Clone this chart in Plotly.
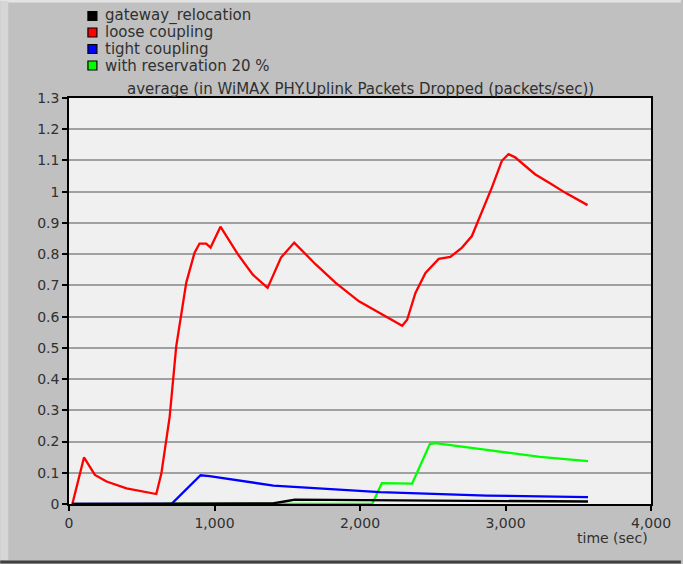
import plotly.graph_objects as go

# time (sec) / value pairs
gateway_t = [20, 700, 1400, 1480, 1552, 2500, 3567]
gateway_v = [0.0, 0.0, 0.002, 0.008, 0.014, 0.011, 0.008]

loose_t = [23, 103, 178, 258, 395, 600, 635, 692, 737, 806, 863, 897, 943, 973, 1041,
           1160, 1262, 1365, 1457, 1548, 1696, 1833, 1993, 2130, 2290, 2324, 2381, 2450,
           2541, 2621, 2701, 2769, 2827, 2906, 2975, 3021, 3066, 3203, 3317, 3409, 3564]
loose_v = [0.0, 0.149, 0.093, 0.072, 0.050, 0.032, 0.098, 0.28, 0.505, 0.709, 0.805, 0.834,
           0.834, 0.821, 0.888, 0.80, 0.735, 0.692, 0.789, 0.837, 0.767, 0.708, 0.649, 0.612,
           0.571, 0.59, 0.676, 0.740, 0.785, 0.791, 0.821, 0.858, 0.922, 1.013, 1.099, 1.120,
           1.110, 1.056, 1.024, 0.997, 0.957]

tight_t = [20, 704, 904, 965, 1405, 2138, 2871, 3567]
tight_v = [0.0, 0.0, 0.092, 0.089, 0.059, 0.038, 0.027, 0.022]

reserve_t = [650, 2084, 2150, 2358, 2480, 2517, 2871, 3237, 3567]
reserve_v = [0.0, 0.0, 0.067, 0.065, 0.192, 0.195, 0.173, 0.151, 0.137]

names = ["gateway_relocation", "loose coupling", "tight coupling", "with reservation 20 %"]
colors = ["#000000", "#ff0000", "#0000ff", "#00ff00"]
times = [gateway_t, loose_t, tight_t, reserve_t]
values = [gateway_v, loose_v, tight_v, reserve_v]

y_ticks = [0, 0.1, 0.2, 0.3, 0.4, 0.5, 0.6, 0.7, 0.8, 0.9, 1, 1.1, 1.2, 1.3]
x_ticks = [0, 1000, 2000, 3000, 4000]

W, H = 683, 564
L, R, T, B = 69, 30, 98, 60
pw, ph = W - L - R, H - T - B


def px_x(x):
    return (x - L) / pw


def px_y(y):
    return (H - B - y) / ph


fig = go.Figure()
for i in [3, 2, 1, 0]:
    fig.add_trace(go.Scatter(x=times[i], y=values[i], mode="lines", name=names[i],
                             line=dict(color=colors[i], width=2.3), showlegend=False))

font = dict(family="DejaVu Sans, Verdana, sans-serif", size=14, color="#303030")
label_font = dict(font, size=15)

# legend drawn by hand: small framed squares with labels
shapes, annotations = [], []
for i, name in enumerate(names):
    yc = 16 + 16.5 * i
    shapes.append(dict(type="rect", xref="paper", yref="paper", x0=px_x(88), x1=px_x(97),
                       y0=px_y(yc + 4.5), y1=px_y(yc - 4.5), fillcolor=colors[i],
                       line=dict(color="#000000", width=1.2)))
    annotations.append(dict(text=name, xref="paper", yref="paper", x=px_x(103), y=px_y(yc),
                            xanchor="left", yanchor="middle", showarrow=False, font=label_font))

annotations += [
    dict(text="average (in WiMAX PHY.Uplink Packets Dropped (packets/sec))", xref="paper",
         yref="paper", x=0.5, y=px_y(89), xanchor="center", yanchor="middle", showarrow=False,
         font=label_font),
    dict(text="time (sec)", xref="paper", yref="paper", x=px_x(652), y=px_y(538),
         xanchor="right", yanchor="middle", showarrow=False, font=font),
]
shapes += [
    dict(type="line", xref="paper", yref="paper", x0=px_x(0), x1=px_x(W), y0=px_y(562),
         y1=px_y(562), line=dict(color="#404040", width=3)),
    dict(type="line", xref="paper", yref="paper", x0=px_x(0), x1=px_x(W), y0=px_y(1),
         y1=px_y(1), line=dict(color="#e4e4e4", width=3)),
    dict(type="line", xref="paper", yref="paper", x0=px_x(4), x1=px_x(4), y0=px_y(1),
         y1=px_y(560), line=dict(color="#d6d6d6", width=8)),
]

fig.update_layout(
    width=W, height=H,
    margin=dict(l=L, r=R, t=T, b=B),
    paper_bgcolor="#c0c0c0",
    plot_bgcolor="#f0f0f0",
    font=font,
    showlegend=False,
    xaxis=dict(range=[0, 4000], tickvals=x_ticks, tickformat=",d", showgrid=False,
               zeroline=False, showline=True, linecolor="#000000", linewidth=1.5, mirror=True,
               ticks="outside", ticklen=5, tickcolor="#000000", tickwidth=1.5),
    yaxis=dict(range=[0, 1.3], tickvals=y_ticks, showgrid=True, gridcolor="#a0a0a0", gridwidth=1.5,
               zeroline=False, showline=True, linecolor="#000000", linewidth=1.5, mirror=True,
               ticks="outside", ticklen=5, tickcolor="#000000", tickwidth=1.5),
    annotations=annotations,
    shapes=shapes,
)

# drop the browser's default body margin so the figure sits at the window's corner
fig.write_html("out.html", config={"displayModeBar": False},
               post_script="document.body.style.margin='0';")
